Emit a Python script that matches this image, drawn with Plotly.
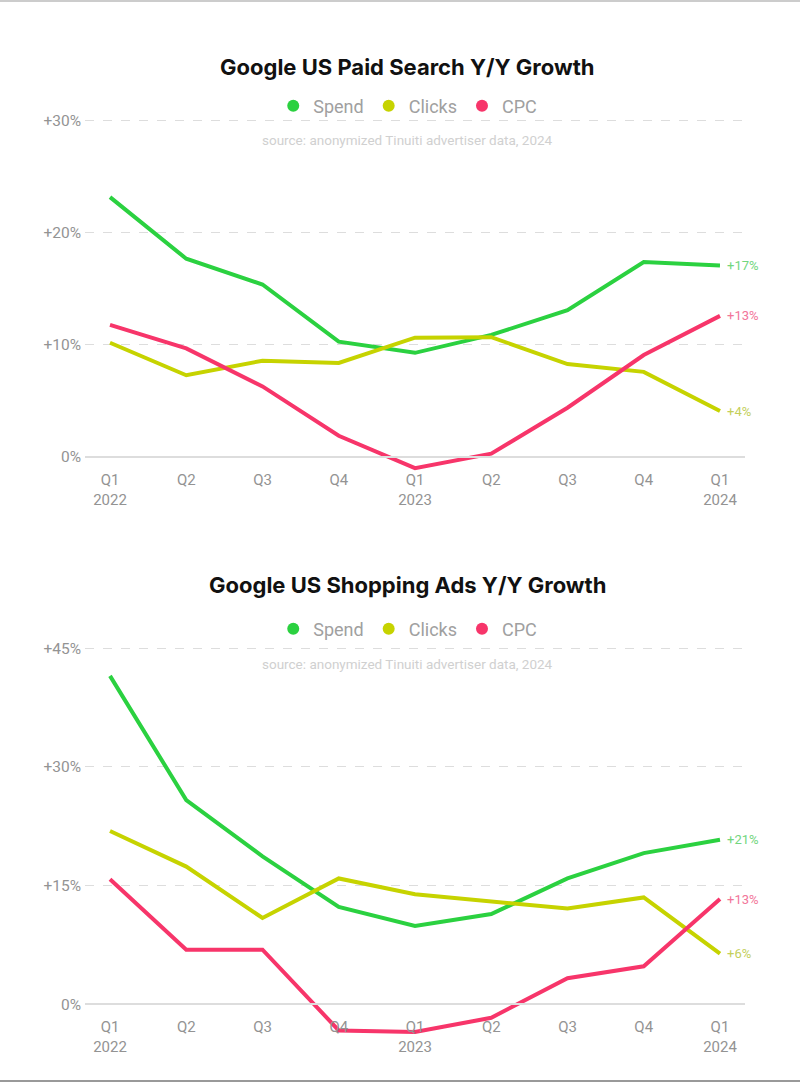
import plotly.graph_objects as go

quarters = ["Q1<br>2022", "Q2", "Q3", "Q4", "Q1<br>2023", "Q2", "Q3", "Q4", "Q1<br>2024"]
series_names = ["Spend", "Clicks", "CPC"]

# Chart 1: Google US Paid Search Y/Y Growth (%)
search_spend = [23.2, 17.7, 15.4, 10.3, 9.3, 10.9, 13.1, 17.4, 17.1]
search_clicks = [10.2, 7.3, 8.6, 8.4, 10.65, 10.7, 8.3, 7.6, 4.1]
search_cpc = [11.8, 9.7, 6.3, 1.9, -1.0, 0.3, 4.4, 9.1, 12.6]
search_end_labels = ["+17%", "+4%", "+13%"]
search_yticks = [0, 10, 20, 30]
search_yticktext = ["0%", "+10%", "+20%", "+30%"]

# Chart 2: Google US Shopping Ads Y/Y Growth (%)
shop_spend = [41.5, 25.8, 18.7, 12.3, 9.9, 11.4, 15.9, 19.1, 20.8]
shop_clicks = [21.9, 17.4, 10.9, 15.9, 13.9, 13.0, 12.1, 13.5, 6.4]
shop_cpc = [15.8, 6.9, 6.9, -3.3, -3.5, -1.7, 3.3, 4.8, 13.3]
shop_end_labels = ["+21%", "+6%", "+13%"]
shop_yticks = [0, 15, 30, 45]
shop_yticktext = ["0%", "+15%", "+30%", "+45%"]

titles = ["Google US Paid Search Y/Y Growth", "Google US Shopping Ads Y/Y Growth"]
source_text = "source: anonymized Tinuiti advertiser data, 2024"

colors = ["#2bd140", "#c6d300", "#f7356a"]
label_colors = ["#72d67e", "#c4cf5a", "#f2769a"]

H = 1083
W = 800
ML, MR = 85, 55

def py(px):
    return 1 - px / H

xidx = list(range(len(quarters)))
fig = go.Figure()

charts = [
    dict(data=[search_spend, search_clicks, search_cpc], labels=search_end_labels,
         yt=search_yticks, ytt=search_yticktext, yrange=[-1.5, 30.3],
         dom=[py(473.8), py(117.6)], zero=py(457), title_y=67, legend_y=106, src_y=140),
    dict(data=[shop_spend, shop_clicks, shop_cpc], labels=shop_end_labels,
         yt=shop_yticks, ytt=shop_yticktext, yrange=[-4.5, 45.5],
         dom=[py(1039.9), py(644.2)], zero=py(1004.3), title_y=585, legend_y=629, src_y=664),
]

annotations = []
layout_axes = {}
for ci, c in enumerate(charts):
    n = "" if ci == 0 else str(ci + 1)
    xa = "x" + n
    ya = "y" + n
    leg = "legend" + n
    for si, vals in enumerate(c["data"]):
        fig.add_trace(go.Scatter(
            x=xidx, y=vals, mode="lines", xaxis=xa, yaxis=ya,
            line=dict(color=colors[si], width=4), showlegend=False,
            hoverinfo="skip"))
        annotations.append(dict(
            x=xidx[-1], y=vals[-1], xref=xa, yref=ya, text=c["labels"][si],
            showarrow=False, xanchor="left", yanchor="middle", xshift=5,
            font=dict(family="Roboto", size=13, color=label_colors[si])))
    for si, name in enumerate(series_names):
        fig.add_trace(go.Scatter(
            x=[None], y=[None], mode="markers", name=name, xaxis=xa, yaxis=ya,
            marker=dict(color=colors[si], size=11, symbol="circle"),
            legend=leg, showlegend=True))
    layout_axes["xaxis" + n] = dict(
        domain=[0, 1], range=[-0.328, 8.328], anchor="free", position=c["zero"],
        tickvals=xidx, ticktext=quarters, showgrid=False, zeroline=False,
        showline=True, linecolor="#dddddd", linewidth=2, ticks="",
        ticklabelstandoff=9, automargin=False,
        tickfont=dict(family="Roboto", size=15, color="#939393"),
        fixedrange=True)
    layout_axes["yaxis" + n] = dict(
        domain=c["dom"], range=c["yrange"], anchor=xa, tickvals=c["yt"],
        ticktext=c["ytt"], showgrid=True, gridcolor="#dddddd", griddash="dash",
        gridwidth=1, zeroline=False, showline=False, ticks="", automargin=False,
        ticklabelstandoff=3,
        tickfont=dict(family="Roboto", size=15.5, color="#939393"))
    layout_axes[leg] = dict(
        orientation="h", x=0.489, xanchor="center", y=py(c["legend_y"]),
        yanchor="middle", font=dict(family="Roboto", size=18, color="#a0a0a0"),
        bgcolor="rgba(0,0,0,0)", itemsizing="constant", tracegroupgap=0)
    annotations.append(dict(
        x=0.489, y=py(c["title_y"]), xref="paper", yref="paper",
        text="<b>" + titles[ci] + "</b>", showarrow=False,
        xanchor="center", yanchor="middle",
        font=dict(family="Inter", size=22, color="#111111")))
    annotations.append(dict(
        x=0.489, y=py(c["src_y"]), xref="paper", yref="paper",
        text=source_text, showarrow=False, xanchor="center", yanchor="middle",
        font=dict(family="Roboto", size=13.5, color="#d0d0d0")))

fig.update_layout(
    template="none",
    width=W, height=H, margin=dict(l=ML, r=MR, t=0, b=0, pad=0, autoexpand=False),
    paper_bgcolor="white", plot_bgcolor="white",
    annotations=annotations,
    shapes=[
        dict(type="line", xref="paper", yref="paper", x0=-ML / (W - ML - MR),
             x1=1 + MR / (W - ML - MR), y0=py(1), y1=py(1),
             line=dict(color="#cccccc", width=2)),
        dict(type="line", xref="paper", yref="paper", x0=-ML / (W - ML - MR),
             x1=1 + MR / (W - ML - MR), y0=py(1081), y1=py(1081),
             line=dict(color="#999999", width=2)),
    ],
    **layout_axes,
)

fig.write_html(
    "out.html",
    config={"displayModeBar": False},
    post_script="document.body.style.margin='0';document.body.style.overflow='hidden';",
)
